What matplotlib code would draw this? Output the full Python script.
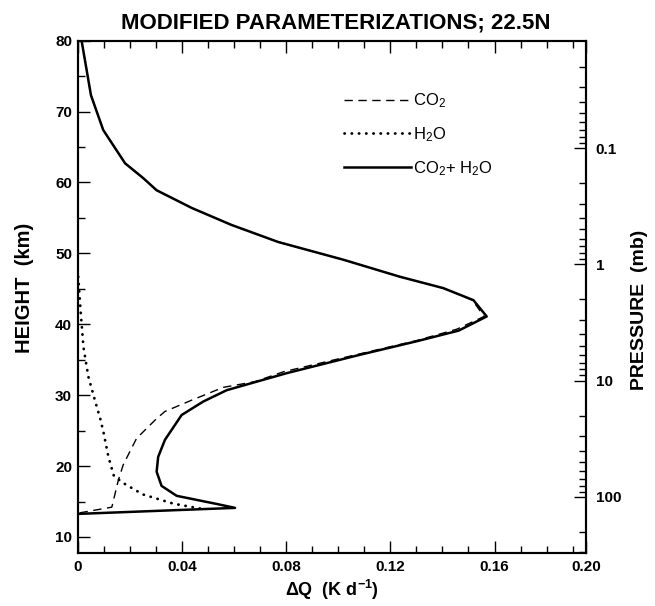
import numpy as np
import matplotlib.pyplot as plt
from matplotlib.ticker import MultipleLocator, FuncFormatter, NullFormatter, LogLocator

plt.rcParams['font.family'] = ['Liberation Sans', 'DejaVu Sans']
plt.rcParams['font.weight'] = 'bold'
plt.rcParams['mathtext.fontset'] = 'custom'
plt.rcParams['mathtext.rm'] = 'Liberation Sans:bold'
plt.rcParams['mathtext.it'] = 'Liberation Sans:italic:bold'
plt.rcParams['mathtext.bf'] = 'Liberation Sans:bold'

# heating rate differences (K/day) vs height (km)
z_tot = [80.0, 72.3, 67.4, 62.7, 60.6, 58.9, 56.4, 54.0, 51.6, 49.1, 46.7, 45.1,
         43.4, 41.1, 39.1, 37.6, 35.7, 33.1, 30.7, 29.1, 27.2, 23.7, 21.3, 19.2,
         17.2, 15.8, 14.65, 14.1, 13.25]
q_tot = [0.0015, 0.0051, 0.0098, 0.0182, 0.0252, 0.0303, 0.0438, 0.0591, 0.0770,
         0.1020, 0.1237, 0.1403, 0.1519, 0.1570, 0.1462, 0.1301, 0.1084, 0.0802,
         0.0572, 0.0482, 0.0399, 0.0335, 0.0309, 0.0303, 0.0322, 0.0380, 0.0534,
         0.0604, 0.0]

z_co2 = [80.0, 72.3, 67.4, 62.7, 60.6, 58.9, 56.4, 54.0, 51.6, 49.1, 46.7, 45.1,
         43.4, 41.1, 39.3, 37.7, 35.8, 33.3, 31.9, 31.1, 29.3, 27.7, 26.7, 23.9,
         20.2, 18.0, 14.2, 13.35]
q_co2 = [0.0015, 0.0051, 0.0098, 0.0182, 0.0252, 0.0303, 0.0438, 0.0591, 0.0770,
         0.1020, 0.1237, 0.1403, 0.1515, 0.1560, 0.1455, 0.1301, 0.1080, 0.0790,
         0.0680, 0.0559, 0.0438, 0.0335, 0.0303, 0.0226, 0.0175, 0.0156, 0.0131,
         0.0]

z_h2o = [46.7, 43.0, 40.1, 36.8, 32.6, 29.3, 26.5, 24.6, 21.3, 18.6, 17.6, 16.0,
         14.7, 14.0]
q_h2o = [0.0002, 0.0009, 0.0015, 0.0022, 0.0041, 0.0066, 0.0088, 0.0100, 0.0118,
         0.0139, 0.0175, 0.0250, 0.0367, 0.0472]

XMAX = 0.1951   # right edge of the original frame (labelled 0.20)
YMIN, YMAX = 7.74, 80.0


def z2p(z):
    return 10 ** (2.954 - np.asarray(z) / 16.4)


fig = plt.figure(figsize=(6.55, 6.06), dpi=100)
ax = fig.add_axes([0.1186, 0.0875, 0.776, 0.8454])

ax.plot(q_co2, z_co2, color='k', lw=1.0, ls=(0, (6, 4)),
        label='CO$_\\mathregular{2}$')
ax.plot(q_h2o, z_h2o, color='k', lw=2.0, ls=(0, (0.1, 2.5)),
        dash_capstyle='round', label='H$_\\mathregular{2}$O')
ax.plot(q_tot, z_tot, color='k', lw=1.8,
        label='CO$_\\mathregular{2}$+ H$_\\mathregular{2}$O')

ax.set_xlim(0, XMAX)
ax.set_ylim(YMIN, YMAX)
ax.set_xticks([0, 0.04, 0.08, 0.12, 0.16, XMAX])
ax.set_xticklabels(['0', '0.04', '0.08', '0.12', '0.16', '0.20'])
ax.xaxis.set_minor_locator(MultipleLocator(0.01))
ax.yaxis.set_major_locator(MultipleLocator(10))
ax.yaxis.set_minor_locator(MultipleLocator(5))
ax.tick_params(which='both', direction='in', top=True, right=False, width=1.0,
               labelsize=11)
ax.tick_params(which='major', length=8.5)
ax.tick_params(which='minor', length=5)
ax.tick_params(axis='y', pad=4)
ax.tick_params(axis='x', pad=5)
for s in ax.spines.values():
    s.set_linewidth(1.5)

ax2 = ax.twinx()
ax2.set_yscale('log')
ax2.set_ylim(z2p(YMIN), z2p(YMAX))
ax2.yaxis.set_major_locator(LogLocator(base=10))
ax2.yaxis.set_minor_locator(LogLocator(base=10, subs=np.arange(2, 10)))
ax2.yaxis.set_major_formatter(FuncFormatter(lambda v, p: f'{v:g}'))
ax2.yaxis.set_minor_formatter(NullFormatter())
ax2.tick_params(which='both', direction='in', width=1.0, labelsize=11, pad=7)
ax2.tick_params(which='major', length=8.5)
ax2.tick_params(which='minor', length=5)
for s in ax2.spines.values():
    s.set_linewidth(1.5)

ax.set_title('MODIFIED PARAMETERIZATIONS; 22.5N', fontsize=16, pad=9, x=0.508,
             fontweight='bold')
ax.set_xlabel('ΔQ  (K d$^{-1}$)', fontsize=13, labelpad=3, fontweight='bold')
fig.text(25 / 655, 1 - 288 / 606, 'HEIGHT  (km)', rotation=90, fontsize=14.5,
         ha='center', va='center')
fig.text(640 / 655, 1 - 310 / 606, 'PRESSURE  (mb)', rotation=90, fontsize=14,
         ha='center', va='center')

ax.legend(loc='upper left', bbox_to_anchor=(0.495, 0.930), frameon=False,
          handlelength=4.0, handletextpad=0.15, labelspacing=0.9,
          borderpad=0.4, prop={'weight': 'normal', 'size': 12})

fig.savefig('out.png', dpi=100)
